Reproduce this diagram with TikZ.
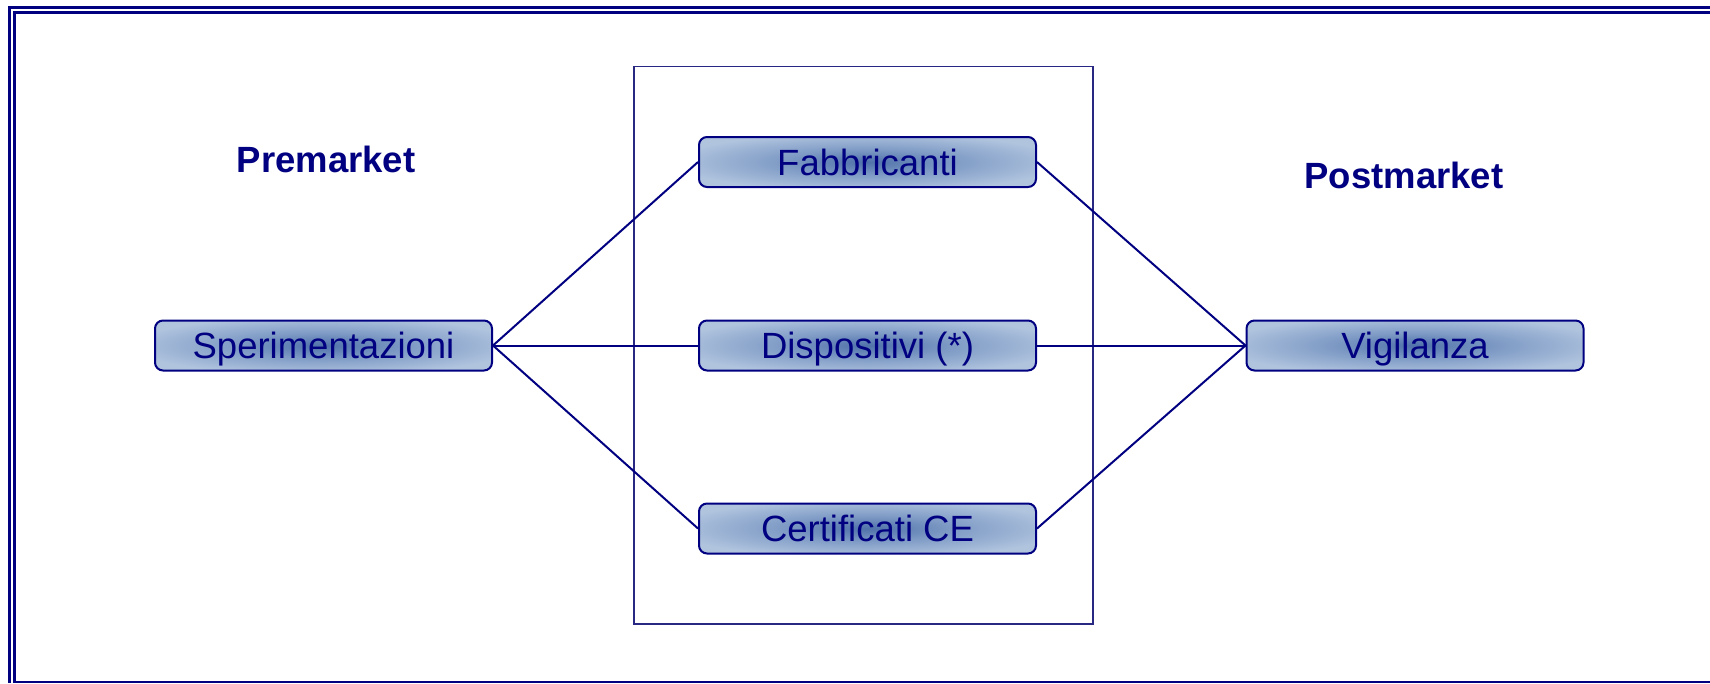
\documentclass[tikz,border=0pt]{standalone}
\usepackage{fontspec}
\setmainfont{Liberation Sans}
\definecolor{navy}{RGB}{0,0,128}
\definecolor{framecol}{RGB}{40,40,130}
\definecolor{boxlight}{RGB}{176,196,222}
\definecolor{boxmid}{RGB}{128,156,198}
\definecolor{boxdark}{RGB}{80,114,170}
\pgfdeclareradialshading{boxshade}{\pgfpoint{0bp}{0bp}}{color(0bp)=(boxdark); color(13bp)=(boxmid); color(29bp)=(boxlight); color(50bp)=(boxlight)}
\tikzset{
  itembox/.style={draw=navy, line width=2pt, rounded corners=8pt, shading=boxshade,
    minimum width=337pt, minimum height=50pt, inner sep=0pt,
    text=navy, font=\fontsize{36.5pt}{40pt}\selectfont, text height=26pt, text depth=0pt},
  headlabel/.style={text=navy, font=\fontsize{36.5pt}{40pt}\selectfont\bfseries, inner sep=0pt},
  link/.style={draw=navy, line width=2pt},
  frameline/.style={draw=navy, line width=3pt},
}
\begin{document}
\begin{tikzpicture}[x=1pt, y=-1pt]
\useasboundingbox (0,0) rectangle (1710,683);
% outer double frame
\draw[frameline] (9.5,683) -- (9.5,7.5) -- (1710,7.5);
\draw[frameline] (14.5,683) -- (14.5,12.5) -- (1710,12.5);
\draw[draw=navy, line width=2pt] (14.5,682) -- (1710,682);
% central rectangle
\draw[draw=framecol, line width=1.3pt] (634,66.5) rectangle (1093,624);
% nodes
\node[itembox] (spe) at (323.5,345.5) {Sperimentazioni};
\node[itembox] (fab) at (867.5,162) {Fabbricanti};
\node[itembox] (dis) at (867.5,345.5) {Dispositivi (*)};
\node[itembox] (cer) at (867.5,528.5) {Certificati CE};
\node[itembox] (vig) at (1415,345.5) {Vigilanza};
\node[headlabel] (pre) at (326,159) {Premarket};
\node[headlabel] (post) at (1404,175.5) {Postmarket};
% connectors
\draw[link] (spe.east) -- (fab.west);
\draw[link] (spe.east) -- (dis.west);
\draw[link] (spe.east) -- (cer.west);
\draw[link] (fab.east) -- (vig.west);
\draw[link] (dis.east) -- (vig.west);
\draw[link] (cer.east) -- (vig.west);
\end{tikzpicture}
\end{document}
